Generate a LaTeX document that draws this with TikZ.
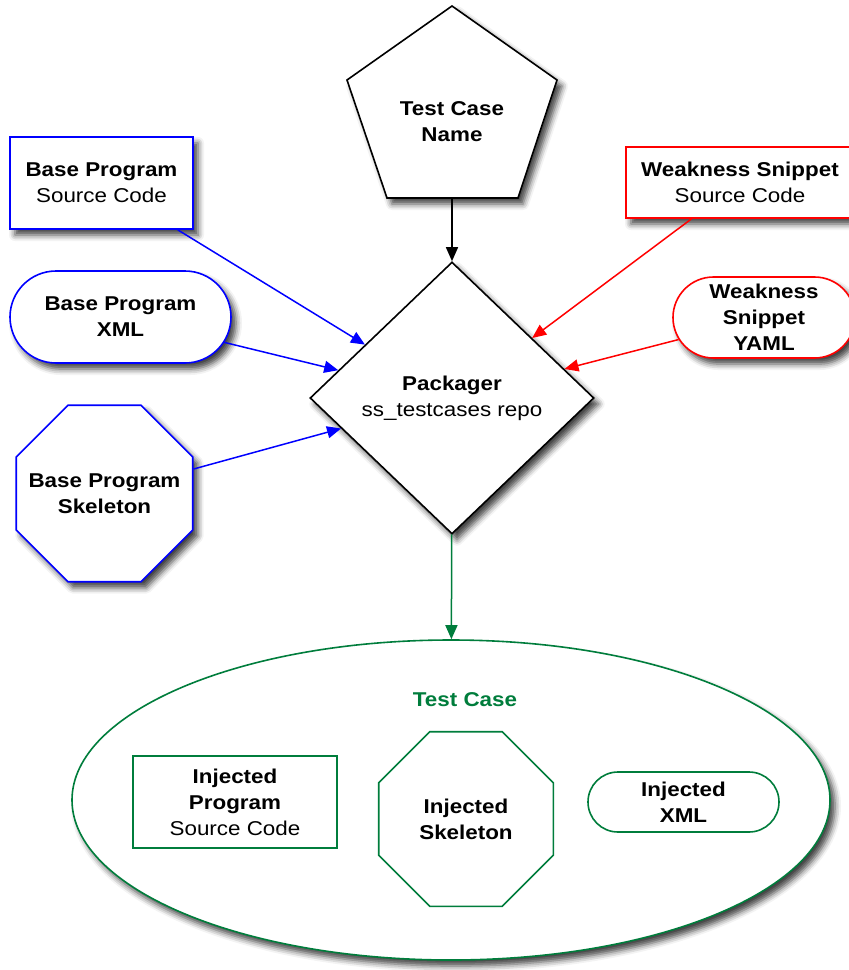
\documentclass[tikz,border=0pt]{standalone}
\usepackage{fontspec}
\setmainfont{Liberation Sans}[FakeStretch=1.12]
\usetikzlibrary{shapes.geometric,shapes.misc,arrows.meta,shadows.blur}
\definecolor{tcgreen}{RGB}{0,125,60}
\definecolor{wred}{RGB}{255,0,0}
\definecolor{bblue}{RGB}{0,0,255}
\tikzset{
  shad/.style={blur shadow={shadow xshift=5pt,shadow yshift=-6pt,shadow blur radius=6pt,shadow opacity=75}},
  base/.style={fill=white,line width=1.6pt,inner sep=0pt,align=center},
  boxshape/.style={base,rectangle},
  stad/.style={base,rounded rectangle},
  oct/.style={base,regular polygon,regular polygon sides=8,minimum size=#1},
  arr/.style={line width=1.5pt,-{Triangle[length=14pt,width=12pt]}},
}
\begin{document}
\begin{tikzpicture}[x=1pt,y=-1pt,font=\fontsize{20}{26}\selectfont]
\useasboundingbox (0,0) rectangle (849,970);

% left-hand inputs (base program)
\node[boxshape,shad,draw=bblue,minimum width=183pt,minimum height=92pt] (bsc) at (101.5,183) {\textbf{Base Program}\\Source Code};
\node[stad,shad,draw=bblue,minimum width=221pt,minimum height=92pt] (bxml) at (120.5,317) {\textbf{Base Program}\\\textbf{XML}};
\node[oct=191pt,shad,draw=bblue,label={[align=center]center:\textbf{Base Program}\\\textbf{Skeleton}}] (bskel) at (104.5,493.5) {};

% right-hand inputs (weakness snippet)
\node[boxshape,shad,draw=wred,minimum width=228pt,minimum height=71pt] (wsc) at (740,182.5) {\textbf{Weakness Snippet}\\Source Code};
\node[stad,shad,draw=wred,minimum width=182pt,minimum height=81pt] (wyaml) at (764,317.5) {\textbf{Weakness}\\\textbf{Snippet}\\\textbf{YAML}};

% test case name (pentagon)
\draw[base,shad,draw=black] (452,6) -- (557,80) -- (518,198) -- (387,198) -- (347,80) -- cycle;
\coordinate (tcnb) at (452,198);
\node[align=center] (tcn) at (452,122) {\textbf{Test Case}\\\textbf{Name}};

% packager
\node[base,diamond,shad,draw=black,minimum width=284pt,minimum height=272pt] (pk) at (452,398) {\textbf{Packager}\\ss\_testcases repo};

% resulting test case
\node[base,ellipse,shad,draw=tcgreen,minimum width=758pt,minimum height=320pt] (tc) at (451,800) {};
\node[text=tcgreen] (tcl) at (465,700) {\textbf{Test Case}};
\node[boxshape,draw=tcgreen,minimum width=204pt,minimum height=92pt] (isc) at (235,802) {\textbf{Injected}\\\textbf{Program}\\Source Code};
\node[oct=189pt,draw=tcgreen,label={[align=center]center:\textbf{Injected}\\\textbf{Skeleton}}] (iskel) at (466,819) {};
\node[stad,draw=tcgreen,minimum width=191pt,minimum height=60pt] (ixml) at (683.5,802) {\textbf{Injected}\\\textbf{XML}};

% connectors
\draw[arr,bblue] (bsc) -- (pk);
\draw[arr,bblue] (bxml) -- (pk);
\draw[arr,bblue] (bskel) -- (pk);
\draw[arr,wred] (wsc) -- (pk);
\draw[arr,wred] (wyaml) -- (pk);
\draw[arr,black] (tcnb) -- (pk);
\draw[arr,tcgreen] (pk) -- (tc);
\end{tikzpicture}
\end{document}
